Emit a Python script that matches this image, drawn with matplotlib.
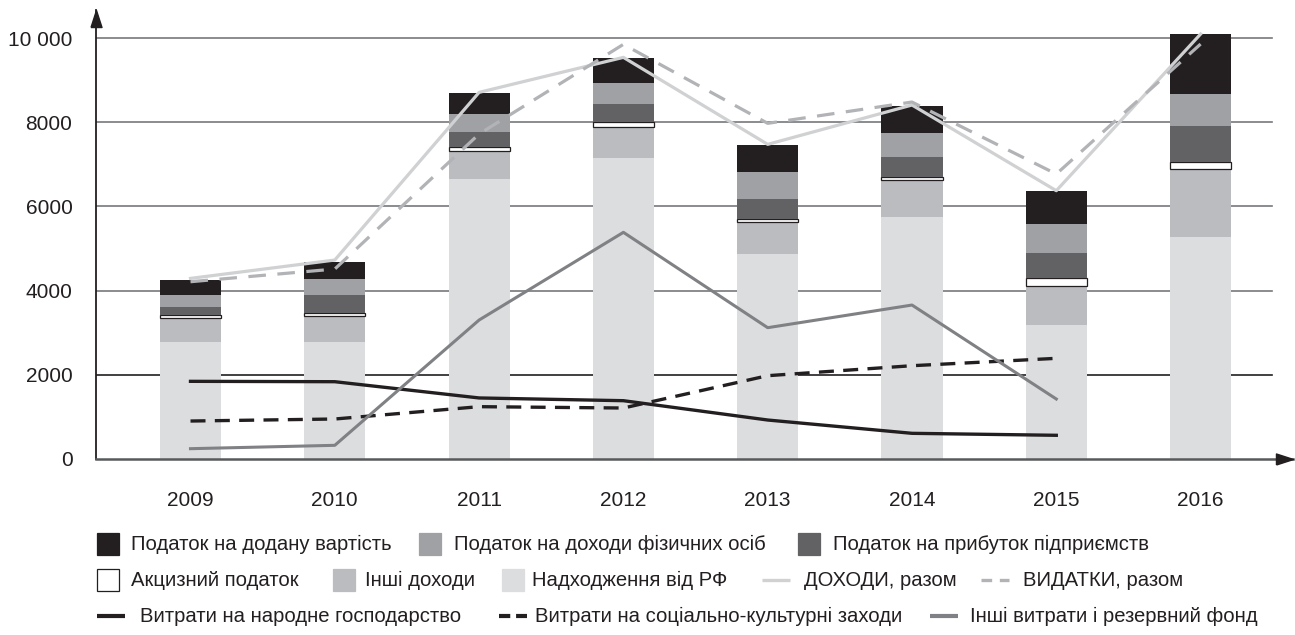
import matplotlib
matplotlib.use("Agg")
import matplotlib.pyplot as plt
import numpy as np
from matplotlib.patches import Rectangle
from matplotlib.lines import Line2D

plt.rcParams['font.family'] = ['Liberation Sans', 'DejaVu Sans']

# --- data ---
years = ['2009', '2010', '2011', '2012', '2013', '2014', '2015', '2016']
rf_transfers = [2780, 2780, 6655, 7150, 4870, 5755, 3180, 5270]
other_income = [576, 617, 660, 745, 752, 871, 935, 1625]
excise_tax = [64, 64, 90, 103, 71, 80, 175, 165]
profit_tax = [200, 435, 365, 435, 483, 466, 600, 850]
personal_tax = [280, 380, 430, 500, 641, 578, 690, 760]
vat = [355, 404, 500, 595, 642, 634, 785, 1425]

income_total = [4290, 4726, 8709, 9540, 7474, 8408, 6373, 10094]
expense_total = [4211, 4512, 7720, 9849, 7973, 8479, 6769, 9856]
# spending lines stop at 2015
national_economy = [1845, 1836, 1450, 1385, 926, 610, 563]
social_cultural = [902, 950, 1243, 1211, 1979, 2216, 2391]
other_spending = [245, 325, 3301, 5384, 3119, 3657, 1425]

y_ticks = [0, 2000, 4000, 6000, 8000, 10000]
y_tick_labels = ['0', '2000', '4000', '6000', '8000', '10 000']

bar_labels = ['Податок на додану вартість', 'Податок на доходи фізичних осіб',
              'Податок на прибуток підприємств', 'Акцизний податок', 'Інші доходи',
              'Надходження від РФ']
line_labels = ['ДОХОДИ, разом', 'ВИДАТКИ, разом', 'Витрати на народне господарство',
               'Витрати на соціально-культурні заходи', 'Інші витрати і резервний фонд']

# --- styles ---
C_VAT = '#231f20'
C_PERS = '#a0a1a4'
C_PROF = '#626264'
C_EXC = '#ffffff'
C_OTH = '#bbbcbf'
C_RF = '#dcdddf'
C_INC = '#d0d1d3'
C_EXP = '#b2b3b6'
C_BLACK = '#231f20'
C_GRAY = '#808184'

W, H = 1295, 635
fig = plt.figure(figsize=(W / 100, H / 100), dpi=100)

# axes: left spine at x=96 px, baseline at y=459 px, top arrow tip ~10 px
ax_left, ax_right = 96, 1293
ax_bottom, ax_top = 459, 10
ax = fig.add_axes([ax_left / W, 1 - ax_bottom / H, (ax_right - ax_left) / W, (ax_bottom - ax_top) / H])

step = 144.3
x0 = 190.5
xl = -(x0 - ax_left) / step
xr = (ax_right - x0) / step
units_per_px = 10000 / 421
ytop = (ax_bottom - ax_top) * units_per_px
ax.set_xlim(xl, xr)
ax.set_ylim(0, ytop)

x = np.arange(len(years))
bw = 0.423

# grid lines (behind bars)
grid_end = (1272 - x0) / step
for yt in y_ticks[1:]:
    col = '#231f20' if yt == 2000 else '#77787b'
    ax.plot([xl, grid_end], [yt, yt], color=col, lw=1.2, zorder=0.5)

# stacked bars
bottom = np.zeros(len(years))
stack = [(rf_transfers, C_RF), (other_income, C_OTH), (excise_tax, C_EXC),
         (profit_tax, C_PROF), (personal_tax, C_PERS), (vat, C_VAT)]
for vals, col in stack:
    vals = np.array(vals, dtype=float)
    if col == C_EXC:
        ax.bar(x, vals, bw, bottom=bottom, color=col, edgecolor='#231f20', linewidth=0.9, zorder=2)
    else:
        ax.bar(x, vals, bw, bottom=bottom, color=col, linewidth=0, zorder=2)
    bottom += vals

# lines
ax.plot(x, income_total, color=C_INC, lw=2.3, zorder=4)
ax.plot(x, expense_total, color=C_EXP, lw=2.3, dashes=(5.5, 3.6), zorder=4)
xs = x[:len(national_economy)]
ax.plot(xs, national_economy, color=C_BLACK, lw=2.4, zorder=4)
ax.plot(xs, social_cultural, color=C_BLACK, lw=2.4, dashes=(4.5, 2.8), zorder=4)
ax.plot(xs, other_spending, color=C_GRAY, lw=2.2, zorder=4)

# axes styling
for s in ['top', 'right']:
    ax.spines[s].set_visible(False)
ax.spines['left'].set_color('#231f20')
ax.spines['left'].set_linewidth(1.3)
ax.spines['bottom'].set_color('#58595b')
ax.spines['bottom'].set_linewidth(1.8)

ax.set_yticks(y_ticks)
ax.set_yticklabels(y_tick_labels)
ax.set_xticks(x)
ax.set_xticklabels(years)
ax.tick_params(axis='both', length=0, labelsize=15, colors='#231f20')
ax.tick_params(axis='y', pad=17)
ax.tick_params(axis='x', pad=23)

# arrow heads
up_head = [(-5.5, -17), (5.5, -17), (0, 0), (-5.5, -17)]
right_head = [(-17, -5.5), (-17, 5.5), (0, 0), (-17, -5.5)]
ax.plot([xl], [ytop], marker=up_head, markersize=24.5, color='#231f20', clip_on=False, zorder=6)
ax.plot([xr], [0], marker=right_head, markersize=24.5, color='#231f20', clip_on=False, zorder=6)

# --- legend, laid out by hand in pixel coordinates ---
LEG_FS = 14.6


def fx(px):
    return px / W


def fy(py):
    return 1 - py / H


def box(px, py, face, edge=None):
    fig.add_artist(Rectangle((fx(px), fy(py + 11)), 22 / W, 22 / H, transform=fig.transFigure,
                             facecolor=face, edgecolor=edge if edge else face, linewidth=0.9))


def seg(px, py, color, dashes=None, lw=2.4, length=28):
    ln = Line2D([fx(px), fx(px + length)], [fy(py), fy(py)], transform=fig.transFigure,
                color=color, lw=lw, solid_capstyle='butt', dash_capstyle='butt')
    if dashes:
        ln.set_dashes(dashes)
    fig.add_artist(ln)


def label(px, py, txt):
    fig.text(fx(px), fy(py), txt, ha='left', va='center', fontsize=LEG_FS, color='#231f20')


r1, r2, r3 = 544, 580, 616
box(97, r1, C_VAT); label(131, r1, bar_labels[0])
box(419, r1, C_PERS); label(454, r1, bar_labels[1])
box(798, r1, C_PROF); label(833, r1, bar_labels[2])

box(97, r2, C_EXC, '#231f20'); label(131, r2, bar_labels[3])
box(333, r2, C_OTH); label(365, r2, bar_labels[4])
box(502, r2, C_RF); label(532, r2, bar_labels[5])
seg(762, r2, C_INC); label(804, r2, line_labels[0])
seg(981, r2, C_EXP, dashes=(3.2, 2.3)); label(1023, r2, line_labels[1])

seg(97, r3, C_BLACK, lw=3); label(140, r3, line_labels[2])
seg(499, r3, C_BLACK, dashes=(2.7, 1.4), lw=3); label(535, r3, line_labels[3])
seg(930, r3, C_GRAY, lw=3); label(970, r3, line_labels[4])

fig.savefig('out.png', dpi=100)
